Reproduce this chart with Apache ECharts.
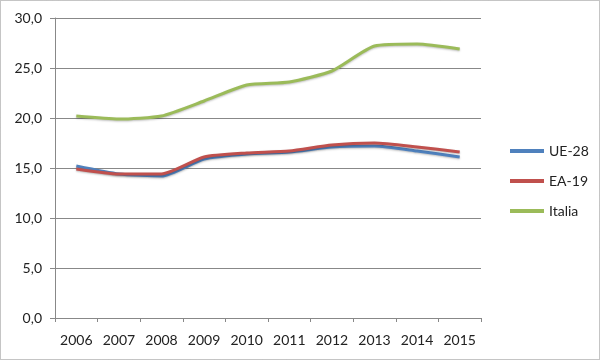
<!DOCTYPE html>
<html>
<head>
<meta charset="utf-8">
<script src="https://cdn.jsdelivr.net/npm/echarts@6/dist/echarts.min.js"></script>
<style>
html,body{margin:0;padding:0;background:#fff;}
#chart{width:601px;height:361px;}
</style>
</head>
<body>
<div id="chart"></div>
<script>
var categories = ['2006','2007','2008','2009','2010','2011','2012','2013','2014','2015'];
var ue28 = [15.2, 14.4, 14.2, 15.9, 16.4, 16.6, 17.1, 17.2, 16.7, 16.1];
var ea19 = [14.9, 14.4, 14.4, 16.1, 16.5, 16.7, 17.3, 17.5, 17.1, 16.6];
var italia = [20.2, 19.9, 20.2, 21.7, 23.3, 23.6, 24.7, 27.2, 27.4, 26.9];
var seriesNames = ['UE-28', 'EA-19', 'Italia'];
var colors = ['#4F81BD', '#C0504D', '#9BBB59'];
var font = 'Lato, "Open Sans", sans-serif';

var chart = echarts.init(document.getElementById('chart'), null, {renderer: 'canvas'});
function mk(name, data, color) {
  return {
    name: name, type: 'line', data: data, smooth: 0.2,
    symbol: 'none', showSymbol: false,
    lineStyle: {color: color, width: 3, shadowColor: 'rgba(0,0,0,0.25)', shadowBlur: 2, shadowOffsetY: 1},
    itemStyle: {color: color},
    emphasis: {disabled: true}
  };
}
chart.setOption({
  animation: false,
  backgroundColor: '#fff',
  graphic: [{
    type: 'rect', shape: {x: 0.5, y: 0.5, width: 599, height: 359},
    style: {fill: 'none', stroke: '#8a8a8a', lineWidth: 1, lineDash: [1, 1]}
  }],
  grid: {left: 55, right: 120, top: 18, bottom: 43, containLabel: false},
  legend: {
    orient: 'vertical', left: 505, top: 138,
    icon: 'rect', itemWidth: 34, itemHeight: 4, itemGap: 14,
    data: seriesNames,
    textStyle: {fontFamily: font, fontSize: 14, color: '#222', lineHeight: 16}
  },
  xAxis: {
    type: 'category', data: categories, boundaryGap: true,
    axisLine: {show: true, lineStyle: {color: '#888', width: 1}},
    axisTick: {show: true, length: 4, lineStyle: {color: '#888'}, alignWithLabel: false},
    axisLabel: {fontFamily: font, fontSize: 14, color: '#222', margin: 15},
    splitLine: {show: false}
  },
  yAxis: {
    type: 'value', min: 0, max: 30, interval: 5,
    axisLine: {show: true, lineStyle: {color: '#888', width: 1}},
    axisTick: {show: true, length: 5, inside: false, lineStyle: {color: '#888'}},
    axisLabel: {fontFamily: font, fontSize: 14, color: '#222', margin: 13,
      formatter: function (v) { return v.toFixed(1).replace('.', ','); }},
    splitLine: {show: true, lineStyle: {color: '#888', width: 1}}
  },
  series: [mk(seriesNames[0], ue28, colors[0]), mk(seriesNames[1], ea19, colors[1]), mk(seriesNames[2], italia, colors[2])]
});
</script>
</body>
</html>
